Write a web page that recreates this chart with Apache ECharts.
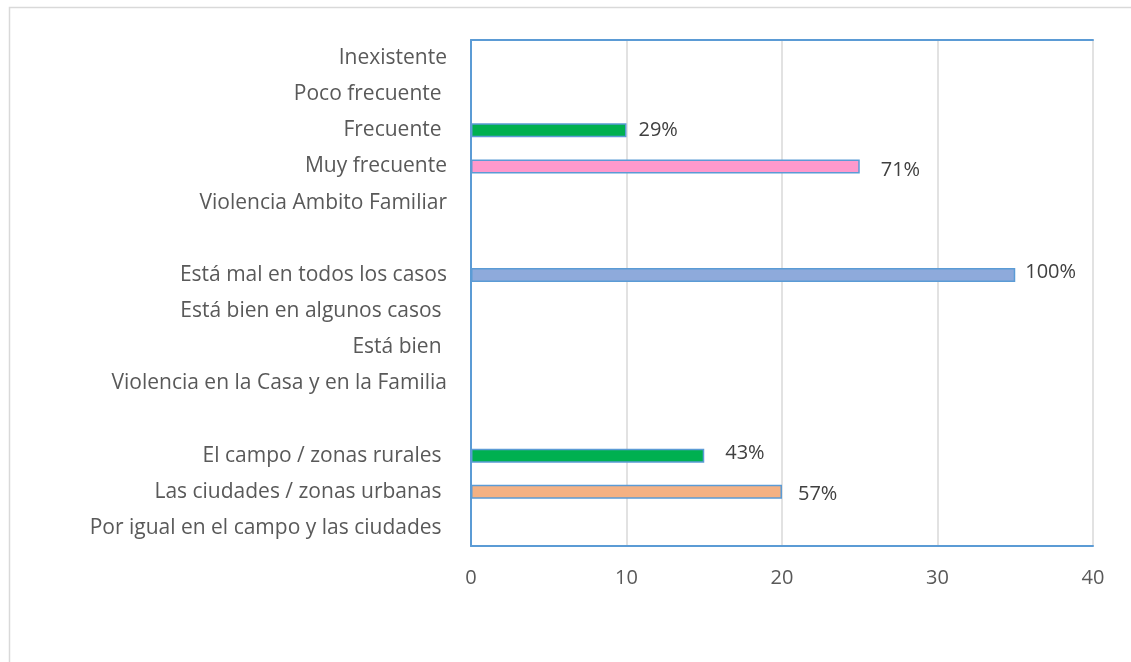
<!DOCTYPE html>
<html><head><meta charset="utf-8">
<script src="https://cdn.jsdelivr.net/npm/echarts@6/dist/echarts.min.js"></script>
<style>html,body{margin:0;padding:0;background:#fff}#c{width:1131px;height:662px}</style>
</head><body><div id="c"></div>
<script>
const categories = [
  "Inexistente", "Poco frecuente ", "Frecuente ", "Muy frecuente", "Violencia Ambito Familiar", "",
  "Está mal en todos los casos", "Está bien en algunos casos ", "Está bien ", "Violencia en la Casa y en la Familia", " ",
  "El campo / zonas rurales ", "Las ciudades / zonas urbanas ", "Por igual en el campo y las ciudades "
];
const values = [null, null, 10, 25, null, null, 35, null, null, null, null, 15, 20, null];
const percentLabels = ["", "", "29%", "71%", "", "", "100%", "", "", "", "", "43%", "57%", ""];
const barColors = ["", "", "#00b050", "#ff99cc", "", "", "#8eaadb", "", "", "", "", "#00b050", "#f4b183", ""];
const labelOffsets = [[0,0],[0,0],[0,0],[9,4],[0,0],[0,0],[-2,-3],[0,0],[0,0],[0,0],[0,0],[9,-2],[4,3],[0,0]];
const xTicks = [0, 10, 20, 30, 40];

const FONT = "Open Sans";
const chart = echarts.init(document.getElementById('c'));
const data = values.map((v, i) => v == null ? null : ({
  value: v,
  itemStyle: { color: barColors[i], borderColor: '#5b9bd5', borderWidth: 1.5 },
  label: { formatter: percentLabels[i], offset: labelOffsets[i] }
}));
chart.setOption({
  animation: false,
  graphic: [{ type: 'rect', shape: { x: 9.5, y: 7.5, width: 1130, height: 700 }, style: { fill: 'none', stroke: '#d9d9d9', lineWidth: 1.5 }, silent: true }],
  grid: { left: 471, right: 38, top: 40, bottom: 116 },
  xAxis: [{
    type: 'value', min: xTicks[0], max: xTicks[xTicks.length - 1], interval: 10,
    axisLine: { show: true, lineStyle: { color: '#5b9bd5', width: 2 } },
    axisTick: { show: false },
    splitLine: { show: true, lineStyle: { color: '#d9d9d9', width: 1.5 } },
    axisLabel: { color: '#595959', fontSize: 20, fontFamily: FONT, margin: 22 }
  }, {
    type: 'value', position: 'top', min: 0, max: 40,
    axisLine: { show: true, lineStyle: { color: '#5b9bd5', width: 2 } },
    axisTick: { show: false }, axisLabel: { show: false }, splitLine: { show: false }
  }],
  yAxis: [{
    type: 'category', data: categories, inverse: true,
    axisLine: { show: true, lineStyle: { color: '#a9bfd6', width: 1 } },
    axisTick: { show: false },
    axisLabel: { color: '#595959', fontSize: 21, fontFamily: FONT, margin: 24, interval: 0 }
  }, {
    type: 'category', data: categories, inverse: true, position: 'right',
    axisLine: { show: true, lineStyle: { color: '#5b9bd5', width: 2 } },
    axisTick: { show: false }, axisLabel: { show: false }
  }],
  series: [{
    type: 'bar', data: data, barWidth: 14,
    label: { show: true, position: 'right', distance: 12, color: '#404040', fontSize: 20, fontFamily: FONT }
  }]
});
</script></body></html>
